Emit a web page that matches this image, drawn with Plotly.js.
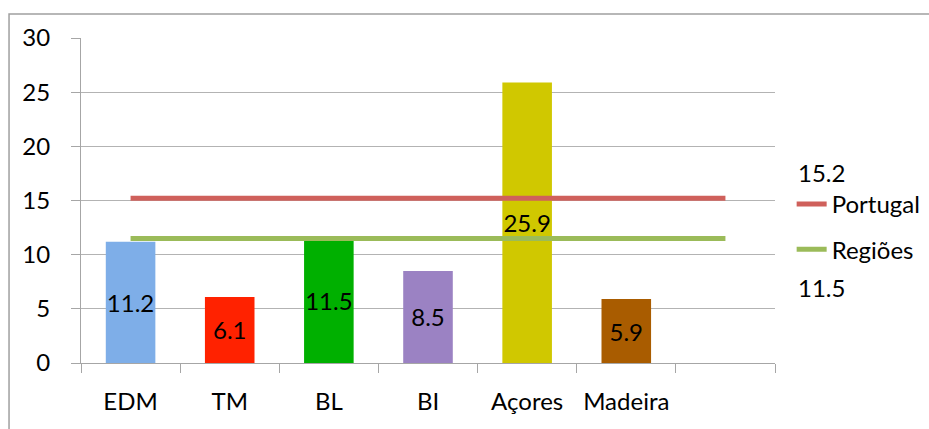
<!DOCTYPE html>
<html>
<head>
<meta charset="utf-8">
<script src="https://cdn.plot.ly/plotly-3.0.1.min.js"></script>
<style>
  html, body { margin: 0; padding: 0; background: #fff; }
  #chart { width: 929px; height: 429px; }
</style>
</head>
<body>
<div id="chart"></div>
<script>
// categories (last slot is empty in the original)
const categories = ["EDM", "TM", "BL", "BI", "Açores", "Madeira", " "];
const regionNames = ["EDM", "TM", "BL", "BI", "Açores", "Madeira"];
const regionValues = [11.2, 6.1, 11.5, 8.5, 25.9, 5.9];
const barColors = ["#7eaee8", "#ff2200", "#00b000", "#9b82c3", "#d0c800", "#a95c00"];

// reference lines
const portugal = [15.2, 15.2, 15.2, 15.2, 15.2, 15.2, 15.2];
const regioes = [11.5, 11.5, 11.5, 11.5, 11.5, 11.5, 11.5];

const FONT = "Lato, 'Open Sans', sans-serif";

const bars = {
  type: "bar",
  x: regionNames,
  y: regionValues,
  marker: { color: barColors },
  text: regionValues.map((v) => v.toFixed(1)),
  textposition: "inside",
  insidetextanchor: "middle",
  textangle: 0,
  constraintext: "none",
  textfont: { family: FONT, size: 24, color: "#000" },
  showlegend: false,
  hoverinfo: "none",
};

const portugalLine = {
  type: "scatter",
  mode: "lines",
  x: categories,
  y: portugal,
  name: "Portugal",
  legendgroup: "p",
  line: { color: "#cf605b", width: 5 },
};

const regioesLine = {
  type: "scatter",
  mode: "lines",
  x: categories,
  y: regioes,
  name: "Regiões",
  legendgroup: "r",
  line: { color: "#9bbb59", width: 5 },
};

const layout = {
  width: 929,
  height: 429,
  margin: { l: 81, r: 154, t: 38, b: 66, autoexpand: false },
  paper_bgcolor: "#fff",
  plot_bgcolor: "#fff",
  font: { family: FONT, size: 24, color: "#000" },
  bargap: 0.5,
  hovermode: false,
  xaxis: {
    type: "category",
    categoryorder: "array",
    categoryarray: categories,
    range: [-0.5, 6.5],
    tickson: "boundaries",
    ticks: "outside",
    ticklen: 9,
    tickcolor: "#a6a6a6",
    showline: true,
    linecolor: "#a6a6a6",
    showgrid: false,
    ticklabelstandoff: 17,
    tickfont: { family: FONT, size: 24 },
  },
  yaxis: {
    range: [0, 30],
    tickvals: [0, 5, 10, 15, 20, 25, 30],
    ticks: "outside",
    ticklen: 9,
    tickcolor: "#a6a6a6",
    showline: true,
    linecolor: "#a6a6a6",
    gridcolor: "#b3b3b3",
    zeroline: false,
    ticklabelstandoff: 16,
    tickfont: { family: FONT, size: 24 },
  },
  legend: {
    x: 1.024,
    xanchor: "left",
    y: 0.557,
    yanchor: "top",
    traceorder: "grouped",
    tracegroupgap: 11,
    font: { family: FONT, size: 24 },
    bgcolor: "rgba(0,0,0,0)",
  },
  annotations: [
    {
      xref: "paper", yref: "paper", x: 1.03, y: 0.587,
      xanchor: "left", yanchor: "middle", showarrow: false,
      text: portugal[0].toFixed(1), font: { family: FONT, size: 24 },
    },
    {
      xref: "paper", yref: "paper", x: 1.03, y: 0.232,
      xanchor: "left", yanchor: "middle", showarrow: false,
      text: regioes[0].toFixed(1), font: { family: FONT, size: 24 },
    },
  ],
  shapes: [
    {
      type: "rect", xref: "paper", yref: "paper",
      x0: -0.1037, x1: 1.25, y0: -0.3, y1: 1.0738,
      line: { color: "#a0a0a0", width: 1.5 },
      fillcolor: "rgba(0,0,0,0)",
      layer: "below",
    },
  ],
};

Plotly.newPlot("chart", [bars, portugalLine, regioesLine], layout, {
  displayModeBar: false,
  staticPlot: true,
});
</script>
</body>
</html>
